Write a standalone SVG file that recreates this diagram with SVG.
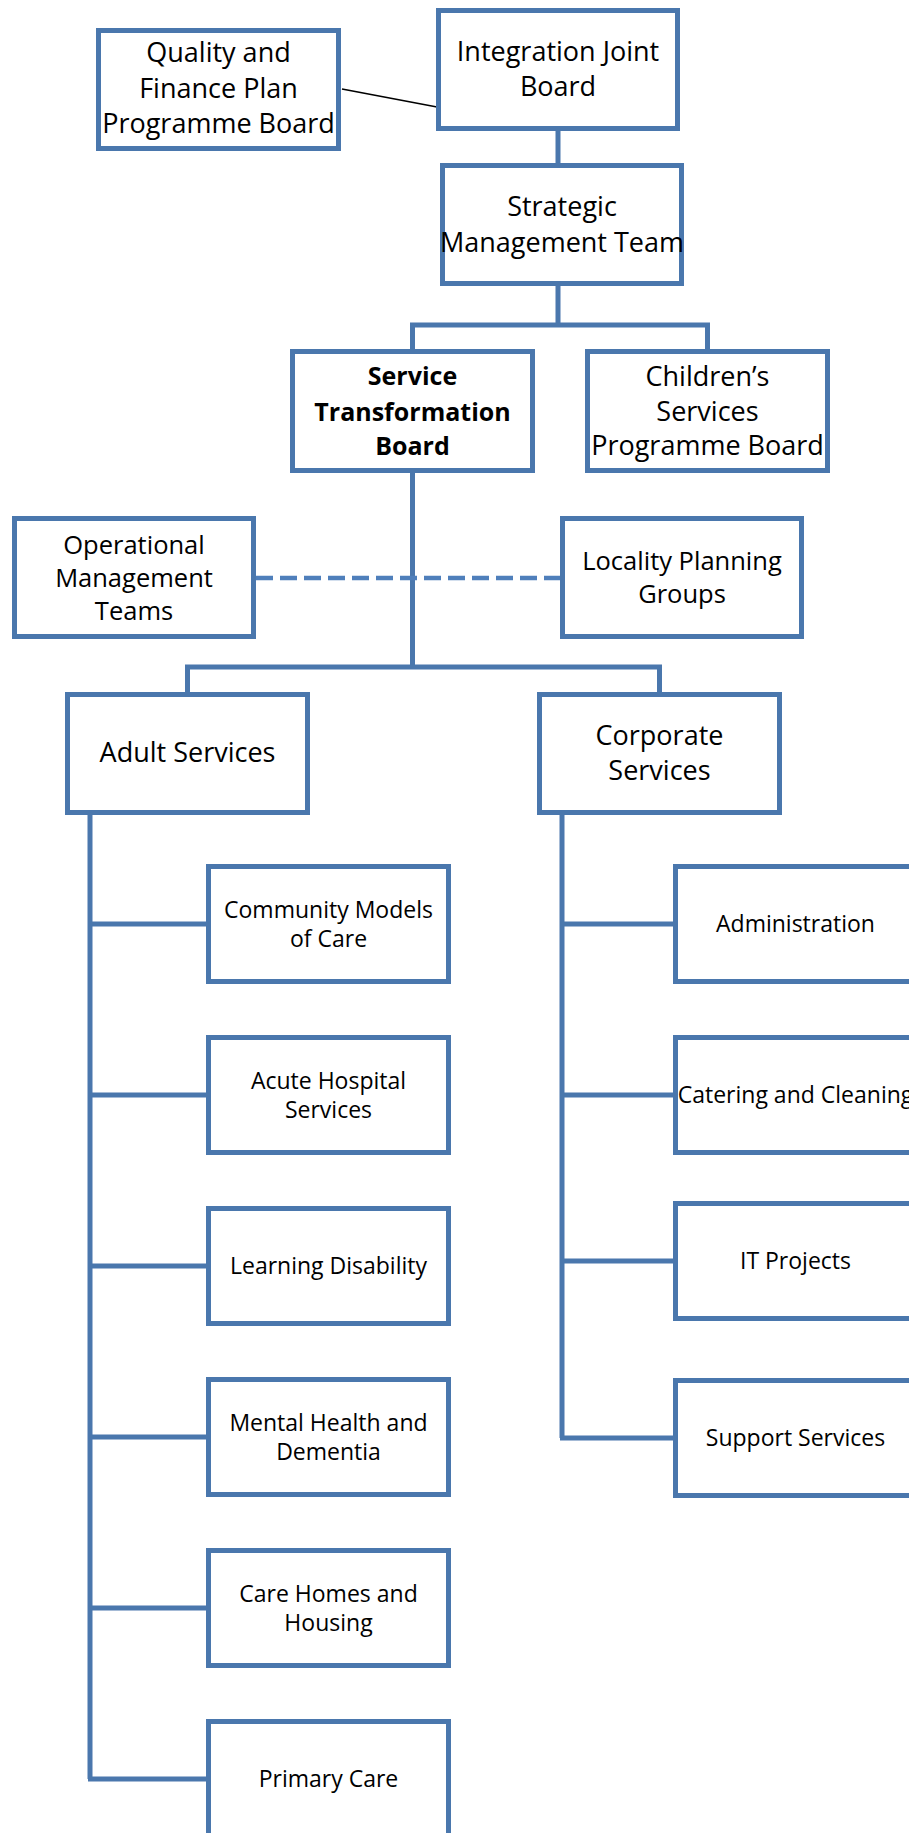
<svg xmlns="http://www.w3.org/2000/svg" width="909" height="1833" viewBox="0 0 909 1833">
  <style>
    .box { fill: #ffffff; stroke: #4a77ad; stroke-width: 5; }
    .link { fill: none; stroke: #4a77ad; stroke-width: 5; }
    .dash { fill: none; stroke: #4f7fbb; stroke-width: 4.5; stroke-dasharray: 17 7; }
    .thin { fill: none; stroke: #000000; stroke-width: 1.6; }
    text { font-family: "Open Sans", "Liberation Sans", sans-serif; fill: #000000; text-anchor: middle; }
    .t1 { font-size: 27px; }
    .t1b { font-size: 25px; font-weight: bold; }
    .t2 { font-size: 25.5px; }
    .t3 { font-size: 23px; }
  </style>

  <!-- connectors -->
  <g id="connectors">
    <line class="thin" x1="342" y1="89" x2="437" y2="107"/>
    <path class="link" d="M558 131 V163"/>
    <path class="link" d="M558 286 V325 M412.5 349 V325 H707.5 V349"/>
    <path class="link" d="M412.5 473 V667 M187.5 692 V667 H659.5 V692"/>
    <line class="dash" x1="256" y1="578" x2="560" y2="578"/>
    <path class="link" d="M90 815 V1779 M90 924 H206 M90 1095 H206 M90 1266 H206 M90 1437 H206 M90 1608 H206 M88 1779 H206"/>
    <path class="link" d="M562 815 V1438 M562 924 H673 M562 1095 H673 M562 1261 H673 M560 1438 H673"/>
  </g>

  <!-- top level -->
  <g id="quality-finance">
    <rect class="box" x="98.5" y="30.5" width="240" height="118"/>
    <text class="t1" x="218.5" y="62">Quality and</text>
    <text class="t1" x="218.5" y="98">Finance Plan</text>
    <text class="t1" x="218.5" y="133">Programme Board</text>
  </g>
  <g id="integration-joint-board">
    <rect class="box" x="438.5" y="10.5" width="239" height="118"/>
    <text class="t1" x="558" y="61">Integration Joint</text>
    <text class="t1" x="558" y="96">Board</text>
  </g>
  <g id="strategic-management-team">
    <rect class="box" x="442.5" y="165.5" width="239" height="118"/>
    <text class="t1" x="562" y="216">Strategic</text>
    <text class="t1" x="562" y="252">Management Team</text>
  </g>
  <g id="service-transformation-board">
    <rect class="box" x="292.5" y="351.5" width="240" height="119"/>
    <text class="t1b" x="412.5" y="385">Service</text>
    <text class="t1b" x="412.5" y="421">Transformation</text>
    <text class="t1b" x="412.5" y="455">Board</text>
  </g>
  <g id="childrens-services">
    <rect class="box" x="587.5" y="351.5" width="240" height="119"/>
    <text class="t1" x="707.5" y="386">Children’s</text>
    <text class="t1" x="707.5" y="421">Services</text>
    <text class="t1" x="707.5" y="455">Programme Board</text>
  </g>

  <!-- side groups -->
  <g id="operational-management-teams">
    <rect class="box" x="14.5" y="518.5" width="239" height="118"/>
    <text class="t2" x="134" y="553.5">Operational</text>
    <text class="t2" x="134" y="586.5">Management</text>
    <text class="t2" x="134" y="619.5">Teams</text>
  </g>
  <g id="locality-planning-groups">
    <rect class="box" x="562.5" y="518.5" width="239" height="118"/>
    <text class="t2" x="682" y="570">Locality Planning</text>
    <text class="t2" x="682" y="603">Groups</text>
  </g>

  <!-- service areas -->
  <g id="adult-services">
    <rect class="box" x="67.5" y="694.5" width="240" height="118"/>
    <text class="t1" x="187.5" y="762">Adult Services</text>
  </g>
  <g id="corporate-services">
    <rect class="box" x="539.5" y="694.5" width="240" height="118"/>
    <text class="t1" x="659.5" y="745">Corporate</text>
    <text class="t1" x="659.5" y="780">Services</text>
  </g>

  <!-- adult services workstreams -->
  <g id="community-models">
    <rect class="box" x="208.5" y="866.5" width="240" height="115"/>
    <text class="t3" x="328.5" y="917.5">Community Models</text>
    <text class="t3" x="328.5" y="946.5">of Care</text>
  </g>
  <g id="acute-hospital">
    <rect class="box" x="208.5" y="1037.5" width="240" height="115"/>
    <text class="t3" x="328.5" y="1088.5">Acute Hospital</text>
    <text class="t3" x="328.5" y="1117.5">Services</text>
  </g>
  <g id="learning-disability">
    <rect class="box" x="208.5" y="1208.5" width="240" height="115"/>
    <text class="t3" x="328.5" y="1274">Learning Disability</text>
  </g>
  <g id="mental-health">
    <rect class="box" x="208.5" y="1379.5" width="240" height="115"/>
    <text class="t3" x="328.5" y="1430.5">Mental Health and</text>
    <text class="t3" x="328.5" y="1459.5">Dementia</text>
  </g>
  <g id="care-homes">
    <rect class="box" x="208.5" y="1550.5" width="240" height="115"/>
    <text class="t3" x="328.5" y="1601.5">Care Homes and</text>
    <text class="t3" x="328.5" y="1630.5">Housing</text>
  </g>
  <g id="primary-care">
    <rect class="box" x="208.5" y="1721.5" width="240" height="115"/>
    <text class="t3" x="328.5" y="1787">Primary Care</text>
  </g>

  <!-- corporate services workstreams -->
  <g id="administration">
    <rect class="box" x="675.5" y="866.5" width="240" height="115"/>
    <text class="t3" x="795.5" y="932">Administration</text>
  </g>
  <g id="catering-cleaning">
    <rect class="box" x="675.5" y="1037.5" width="240" height="115"/>
    <text class="t3" x="795.5" y="1103">Catering and Cleaning</text>
  </g>
  <g id="it-projects">
    <rect class="box" x="675.5" y="1203.5" width="240" height="115"/>
    <text class="t3" x="795.5" y="1269">IT Projects</text>
  </g>
  <g id="support-services">
    <rect class="box" x="675.5" y="1380.5" width="240" height="115"/>
    <text class="t3" x="795.5" y="1446">Support Services</text>
  </g>
</svg>
